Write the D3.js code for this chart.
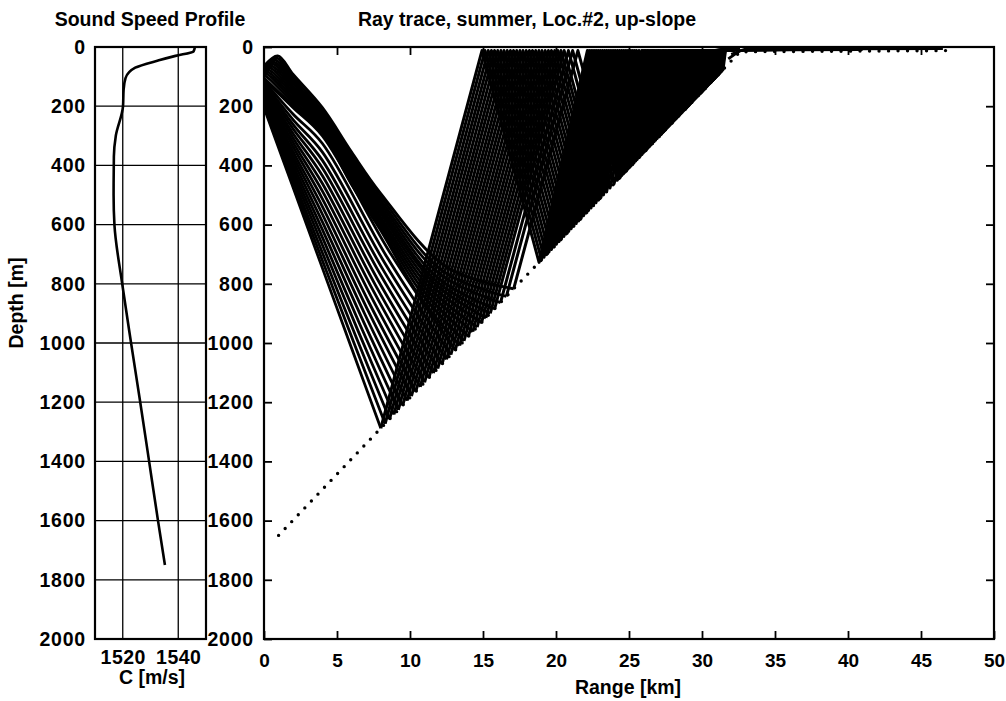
<!DOCTYPE html>
<html><head><meta charset="utf-8">
<script src="https://cdn.jsdelivr.net/npm/d3@7"></script>
<style>
body{margin:0;background:#fff;}
</style></head><body>
<svg id="chart" width="1006" height="701"></svg>
<script>
// ---------------- data ----------------
const sspDepth = [0, 15, 30, 45, 70, 105, 145, 200, 300, 370, 500, 600, 800, 1000, 1200, 1400, 1600, 1750];
const sspSpeed = [1546, 1545.5, 1539, 1533, 1524.5, 1521, 1520.3, 1520.1, 1517.5, 1516.8, 1516.7, 1517, 1519.8, 1523, 1526.3, 1529.5, 1532.7, 1535.2];

const depthTicks = [0, 200, 400, 600, 800, 1000, 1200, 1400, 1600, 1800, 2000];
const speedTicks = [1520, 1540];
const rangeTicks = [0, 5, 10, 15, 20, 25, 30, 35, 40, 45, 50];

const bottomRange = [1.0, 8.0, 12.0, 17.0, 20.0, 25.0, 28.0, 30.0, 32.6, 40.0, 47.0];
const bottomDepth = [1650, 1288, 1081, 822, 668, 409, 254, 151, 16, 14, 12];

// first descent of each ray from the source, [range km, depth m]
const rayFan = [
  [[0,205],[2,476],[4,747],[6.0,1018]],
  [[0,199],[2,460],[4,721],[6.15,998]],
  [[0,194],[2,446],[4,695],[6.3,979]],
  [[0,188],[2,430],[4,669],[6.45,960]],
  [[0,183],[2,415],[4,643],[6.6,941]],
  [[0,177],[2,400],[4,617],[6.75,921]],
  [[0,171],[2,384],[4,591],[6.9,902]],
  [[0,166],[2,369],[4,565],[7.05,883]],
  [[0,160],[2,354],[4,539],[7.2,864]],
  [[0,154],[2,338],[4,513],[7.35,844]],
  [[0,149],[2,323],[4,487],[7.5,825]],
  [[0,143],[2,308],[4,461],[7.65,806]],
  [[0,138],[2,293],[4,435],[7.8,787]],
  [[0,132],[2,277],[4,409],[7.95,767]],
  [[0,126],[2,262],[4,383],[8.1,748]],
  [[0,121],[2,246],[4,355],[8.25,728]],
  [[0,115],[2,227],[4,326],[8.4,708]],
  [[0,110],[2,205],[4,300],[8.55,688]],
  [[0,105],[2,198],[4,290],[6,465],[8,620],[10.7,845]],
  [[0,101],[0.08,98],[2,189],[4,282],[6,456],[8,609],[10.85,836]],
  [[0,98],[0.16,91],[2,180],[4,275],[6,446],[8,597],[11.0,828]],
  [[0,94],[0.25,85],[2,171],[4,267],[6,436],[8,586],[11.15,820]],
  [[0,91],[0.33,78],[2,162],[4,259],[6,426],[8,575],[11.3,812]],
  [[0,87],[0.42,71],[2,153],[4,252],[6,416],[8,563],[11.45,804]],
  [[0,83],[0.50,64],[2,143],[4,245],[6,407],[8,552],[11.6,796]],
  [[0,80],[0.59,57],[2,134],[4,238],[6,397],[8,541],[11.75,789]],
  [[0,76],[0.67,51],[2,124],[4,231],[6,387],[8,529],[11.9,780]],
  [[0,73],[0.76,44],[2,115],[4,223],[6,377],[8,518],[12.1,769]],
  [[0,69],[0.85,37],[2,104],[4,216],[6,367],[8,506],[12.3,759]],
  [[0,65],[0.94,30],[2,93],[4,205],[6,355],[8,495],[12.55,745]]
];

// turning ranges (km) of each ray: bottom, surface, bottom, surface, ...
const rayHits = [
  [8.0,14.93,18.84,22.15,24.20,25.93,27.09,28.10,28.81,29.42,29.88,30.28,30.58,30.85],
  [8.3,15.14,19.01,22.28,24.30,26.02,27.16,28.15,28.86,29.46,29.91,30.31,30.61,30.88],
  [8.6,15.36,19.18,22.41,24.41,26.10,27.23,28.21,28.91,29.51,29.95,30.34,30.64,30.90],
  [8.9,15.58,19.35,22.54,24.51,26.18,27.30,28.27,28.95,29.55,29.99,30.37,30.67,30.93],
  [9.2,15.79,19.52,22.67,24.62,26.27,27.37,28.33,29.00,29.59,30.02,30.40,30.70,30.95],
  [9.5,16.01,19.69,22.80,24.72,26.35,27.44,28.39,29.05,29.63,30.06,30.43,30.72,30.98],
  [9.8,16.23,19.86,22.93,24.83,26.44,27.51,28.44,29.10,29.67,30.10,30.47,30.75,31.00],
  [10.1,16.44,20.03,23.06,24.93,26.52,27.58,28.50,29.15,29.72,30.13,30.50,30.78,31.03],
  [10.4,16.66,20.20,23.19,25.04,26.60,27.65,28.56,29.20,29.76,30.17,30.53,30.81,31.05],
  [10.7,16.88,20.37,23.32,25.14,26.69,27.72,28.62,29.25,29.80,30.21,30.56,30.84,31.08],
  [11.0,17.09,20.54,23.45,25.25,26.77,27.79,28.68,29.30,29.84,30.24,30.59,30.86,31.10],
  [11.3,17.31,20.70,23.58,25.35,26.86,27.86,28.74,29.35,29.88,30.28,30.63,30.89,31.13],
  [11.6,17.53,20.87,23.71,25.46,26.94,27.93,28.79,29.40,29.93,30.32,30.66,30.92,31.15],
  [11.9,17.74,21.04,23.84,25.56,27.03,28.00,28.85,29.45,29.97,30.35,30.69,30.95,31.18],
  [12.2,17.96,21.21,23.97,25.67,27.11,28.07,28.91,29.50,30.01,30.39,30.72,30.98,31.20],
  [12.5,18.18,21.38,24.09,25.77,27.19,28.14,28.97,29.55,30.05,30.43,30.75,31.00,31.23],
  [12.8,18.39,21.55,24.22,25.88,27.28,28.21,29.03,29.60,30.09,30.46,30.79,31.03,31.25],
  [13.1,18.61,21.72,24.35,25.98,27.36,28.28,29.08,29.65,30.14,30.50,30.82,31.06,31.28],
  [13.4,18.83,21.89,24.48,26.09,27.45,28.35,29.14,29.70,30.18,30.54,30.85,31.09,31.30],
  [13.7,19.04,22.06,24.61,26.19,27.53,28.42,29.20,29.75,30.22,30.57,30.88,31.12,31.33],
  [14.0,19.26,22.23,24.74,26.30,27.61,28.49,29.26,29.80,30.26,30.61,30.91,31.15,31.35],
  [14.3,19.48,22.40,24.87,26.40,27.70,28.56,29.32,29.85,30.31,30.65,30.94,31.17,31.38],
  [14.6,19.69,22.57,25.00,26.51,27.78,28.64,29.37,29.90,30.35,30.68,30.98,31.20,31.40],
  [14.9,19.91,22.74,25.13,26.61,27.87,28.71,29.43,29.95,30.39,30.72,31.01,31.23,31.43],
  [15.2,20.13,22.91,25.26,26.72,27.95,28.78,29.49,29.99,30.43,30.76,31.04,31.26,31.45],
  [15.5,20.34,23.08,25.39,26.82,28.03,28.85,29.55,30.04,30.47,30.79,31.07,31.29,31.47],
  [15.8,20.56,23.25,25.52,26.93,28.12,28.92,29.61,30.09,30.52,30.83,31.10,31.31,31.50],
  [16.2,20.85,23.47,25.69,27.07,28.23,29.01,29.68,30.16,30.57,30.88,31.15,31.35,31.53],
  [16.6,21.14,23.70,25.87,27.21,28.34,29.10,29.76,30.23,30.63,30.93,31.19,31.39,31.57],
  [17.1,21.50,23.98,26.08,27.38,28.48,29.22,29.86,30.31,30.70,30.99,31.24,31.44,31.61]
];
const surfaceTurnDepth = 12;
const rayEnd = [32.6, 8];

const shelfRayRange = [[31.8, 32.6, 36.0, 41.0], [32.0, 33.0, 40.0, 46.5]];
const shelfRayDepth = [[40, 12, 10, 9], [25, 6, 6, 5]];

// ---------------- drawing ----------------
const FONT = '"Liberation Sans", Arial, Helvetica, sans-serif';
const svg = d3.select("#chart");

const L = {x0: 95, x1: 206, y0: 47, y1: 639};
const R = {x0: 264, x1: 994, y0: 47, y1: 639};

const xC = d3.scaleLinear().domain([1510, 1550]).range([L.x0, L.x1]);
const yL = d3.scaleLinear().domain([0, 2000]).range([L.y0, L.y1]);
const xR = d3.scaleLinear().domain([0, 50]).range([R.x0, R.x1]);
const yR = d3.scaleLinear().domain([0, 2000]).range([R.y0, R.y1]);
const bottomAt = d3.scaleLinear().domain(bottomRange).range(bottomDepth).clamp(true);
const fmt = d3.format("d");

function styleAxis(g, size, spacing) {
  g.select(".domain").remove();
  g.selectAll(".tick line").attr("stroke", "#000").attr("stroke-width", 1.8);
  g.selectAll(".tick text")
    .attr("font-family", FONT).attr("font-size", size)
    .attr("font-weight", "bold").attr("fill", "#000")
    .attr("letter-spacing", spacing || 0);
}

// ---- Left panel ----
const gl = svg.append("g");
gl.selectAll("line.hg").data(depthTicks.slice(1, -1)).join("line")
  .attr("class", "hg")
  .attr("x1", L.x0).attr("x2", L.x1)
  .attr("y1", d => yL(d)).attr("y2", d => yL(d))
  .attr("stroke", "#000").attr("stroke-width", 1.3);
gl.selectAll("line.vg").data(speedTicks).join("line")
  .attr("class", "vg")
  .attr("x1", d => xC(d)).attr("x2", d => xC(d))
  .attr("y1", L.y0).attr("y2", L.y1)
  .attr("stroke", "#000").attr("stroke-width", 1.3);

const sspData = sspDepth.map((z, i) => ({z, c: sspSpeed[i]}));
gl.append("path").datum(sspData)
  .attr("fill", "none").attr("stroke", "#000").attr("stroke-width", 2.6)
  .attr("stroke-linejoin", "round")
  .attr("d", d3.line().x(d => xC(d.c)).y(d => yL(d.z)).curve(d3.curveMonotoneY));

gl.append("rect").attr("x", L.x0).attr("y", L.y0)
  .attr("width", L.x1 - L.x0).attr("height", L.y1 - L.y0)
  .attr("fill", "none").attr("stroke", "#000").attr("stroke-width", 2.2);

svg.append("g").attr("transform", `translate(${L.x0},0)`)
  .call(d3.axisLeft(yL).tickValues(depthTicks).tickFormat(fmt).tickSize(0).tickPadding(9))
  .call(g => styleAxis(g, 19.5, 0.8));
svg.append("g").attr("transform", `translate(0,${L.y1})`)
  .call(d3.axisBottom(xC).tickValues(speedTicks).tickFormat(fmt).tickSize(0).tickPadding(11))
  .call(g => styleAxis(g, 19.5, 0.5));

// ---- Right panel ----
svg.append("clipPath").attr("id", "clipR").append("rect")
  .attr("x", R.x0).attr("y", R.y0).attr("width", R.x1 - R.x0).attr("height", R.y1 - R.y0);
const gr = svg.append("g").attr("clip-path", "url(#clipR)");

const fanLine = d3.line().x(d => xR(d[0])).y(d => yR(d[1])).curve(d3.curveCatmullRom.alpha(0.5));
const zigLine = d3.line().x(d => xR(d[0])).y(d => yR(d[1]));

rayFan.forEach((fan, i) => {
  const hits = rayHits[i];
  const fanPts = fan.concat([[hits[0], bottomAt(hits[0])]]);
  gr.append("path").attr("d", fanLine(fanPts))
    .attr("fill", "none").attr("stroke", "#000").attr("stroke-width", 2.8)
    .attr("stroke-linejoin", "round");
  const zig = hits.map((r, k) => [r, k % 2 === 0 ? bottomAt(r) : surfaceTurnDepth]).concat([rayEnd]);
  gr.append("path").attr("d", zigLine(zig))
    .attr("fill", "none").attr("stroke", "#000").attr("stroke-width", 3.0)
    .attr("stroke-linejoin", "round");
});

shelfRayRange.forEach((rs, i) => {
  const pts = rs.map((r, k) => [r, shelfRayDepth[i][k]]);
  gr.append("path").attr("d", zigLine(pts))
    .attr("fill", "none").attr("stroke", "#000").attr("stroke-width", 2.8);
});

const bathy = bottomRange.map((r, i) => [r, bottomDepth[i]]);
gr.append("path").attr("d", zigLine(bathy))
  .attr("fill", "none").attr("stroke", "#000").attr("stroke-width", 3.4)
  .attr("stroke-linecap", "round").attr("stroke-dasharray", "0 9.5");

svg.append("rect").attr("x", R.x0).attr("y", R.y0)
  .attr("width", R.x1 - R.x0).attr("height", R.y1 - R.y0)
  .attr("fill", "none").attr("stroke", "#000").attr("stroke-width", 2.2);

svg.append("g").attr("transform", `translate(${R.x0},0)`)
  .call(d3.axisLeft(yR).tickValues(depthTicks).tickFormat(fmt).tickSize(-8).tickPadding(10))
  .call(g => styleAxis(g, 19.5, 0.8));
svg.append("g").attr("transform", `translate(${R.x1},0)`)
  .call(d3.axisRight(yR).tickValues(depthTicks.slice(1, -1)).tickSize(-8).tickFormat(""))
  .call(g => styleAxis(g, 19.5));
svg.append("g").attr("transform", `translate(0,${R.y1})`)
  .call(d3.axisBottom(xR).tickValues(rangeTicks).tickFormat(fmt).tickSize(-8).tickPadding(15))
  .call(g => styleAxis(g, 19));
svg.append("g").attr("transform", `translate(0,${R.y0})`)
  .call(d3.axisTop(xR).tickValues(rangeTicks.slice(1, -1)).tickSize(-8).tickFormat(""))
  .call(g => styleAxis(g, 19));

function label(text, x, y, size, rotate) {
  const t = svg.append("text").text(text)
    .attr("font-family", FONT).attr("font-size", size).attr("font-weight", "bold")
    .attr("fill", "#000").attr("text-anchor", "middle");
  if (rotate) t.attr("transform", `translate(${x},${y}) rotate(-90)`);
  else t.attr("x", x).attr("y", y);
}
label("Sound Speed Profile", 150, 26, 19.5);
label("Ray trace, summer, Loc.#2, up-slope", 527, 26, 19.5);
label("C [m/s]", 152, 684, 19.5);
label("Range [km]", 628, 694, 19.5);
label("Depth [m]", 23, 303, 19.5, true);
</script>
</body></html>
